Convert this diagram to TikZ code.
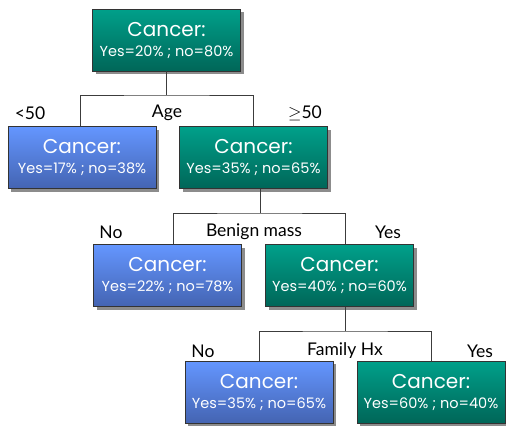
\documentclass[tikz,border=0pt]{standalone}
\usepackage{fontspec}
\setmainfont{Lato}
\newfontfamily\boxfont{Poppins}
\usetikzlibrary{shadows}
\definecolor{tealtop}{RGB}{0,160,138}
\definecolor{tealbot}{RGB}{0,102,88}
\definecolor{bluetop}{RGB}{100,150,255}
\definecolor{bluebot}{RGB}{68,100,178}
\definecolor{linegray}{RGB}{60,60,60}
\tikzset{
  box/.style={draw=black!80, line width=0.8pt, minimum width=148pt, minimum height=62pt,
    inner sep=0pt, align=center, text=white, font=\boxfont\fontsize{20}{22}\selectfont,
    drop shadow={shadow xshift=3pt, shadow yshift=-3pt, fill=black!45, opacity=1}},
  tealbox/.style={box, top color=tealtop, bottom color=tealbot},
  bluebox/.style={box, top color=bluetop, bottom color=bluebot},
  conn/.style={draw=linegray, line width=0.8pt},
  lbl/.style={font=\fontsize{17.5}{19}\selectfont, text=black, inner sep=0pt}
}
\newcommand{\stat}[1]{\\[-2pt]{\fontsize{14.5}{16}\selectfont #1}}
\begin{document}
\begin{tikzpicture}[x=1pt,y=-1pt]
\useasboundingbox (0,0) rectangle (506,426);
% nodes
\node[tealbox] (root) at (166.5,40) {Cancer:\stat{Yes=20\% ; no=80\%}};
\node[bluebox] (l1) at (82,157.5) {Cancer:\stat{Yes=17\% ; no=38\%}};
\node[tealbox] (r1) at (253.5,157.5) {Cancer:\stat{Yes=35\% ; no=65\%}};
\node[bluebox] (l2) at (167.5,275.5) {Cancer:\stat{Yes=22\% ; no=78\%}};
\node[tealbox] (r2) at (339.5,275.5) {Cancer:\stat{Yes=40\% ; no=60\%}};
\node[bluebox] (l3) at (259,392) {Cancer:\stat{Yes=35\% ; no=65\%}};
\node[tealbox] (r3) at (431,392) {Cancer:\stat{Yes=60\% ; no=40\%}};
% junction coordinates
\coordinate (j0) at (166.5,95);
\coordinate (j1) at (260,213);
\coordinate (j2) at (345,331);
% connectors
\draw[conn] (root.south) -- (j0);
\draw[conn] (l1.north -| 80,0) |- (j0) -| (r1.north);
\draw[conn] (r1.south -| j1) -- (j1);
\draw[conn] (l2.north -| 173,0) |- (j1) -| (r2.north -| 345,0);
\draw[conn] (r2.south -| j2) -- (j2);
\draw[conn] (l3.north) |- (j2) -| (r3.north);
% labels
\node[lbl] (a1) at (30,113) {<50};
\node[lbl] (a2) at (167,113) {Age};
\node[lbl] (a3) at (305,113) {$\geq$50};
\node[lbl] (b1) at (111,232) {No};
\node[lbl] (b2) at (254,232) {Benign mass};
\node[lbl] (b3) at (388,232) {Yes};
\node[lbl] (c1) at (203,351) {No};
\node[lbl] (c2) at (345,351) {Family Hx};
\node[lbl] (c3) at (480,351) {Yes};
\end{tikzpicture}
\end{document}
